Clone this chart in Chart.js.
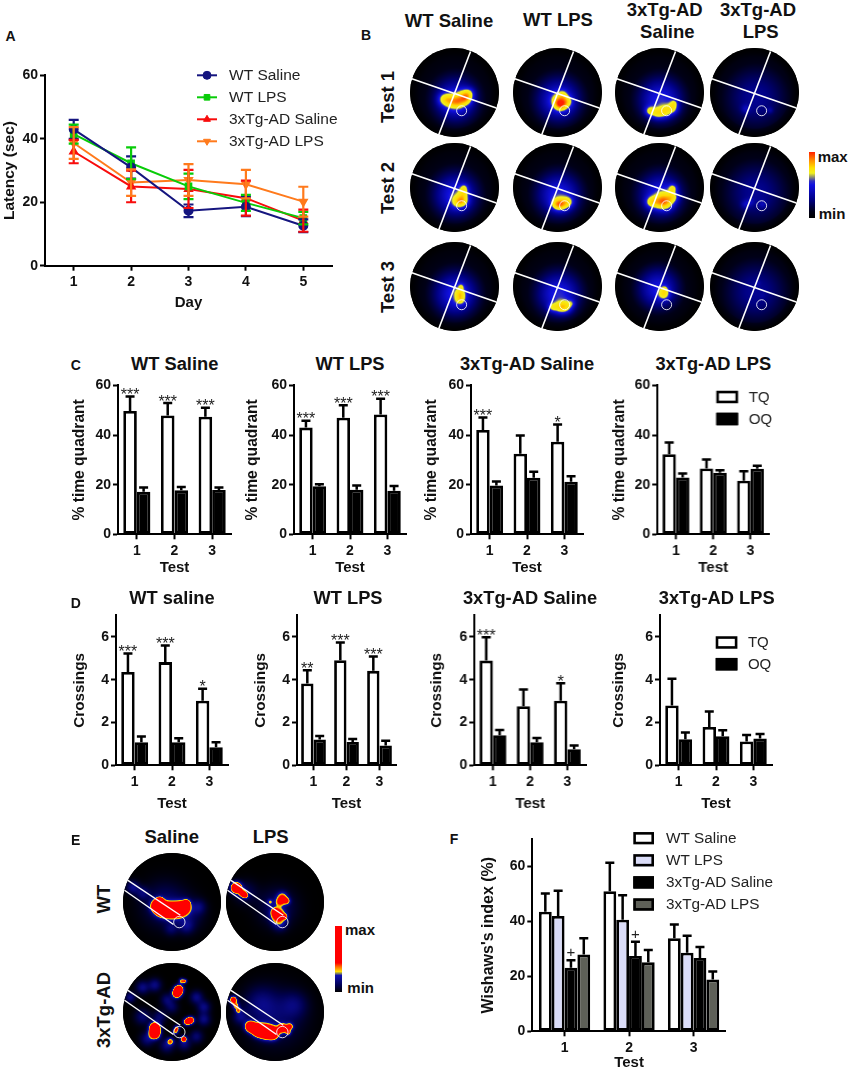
<!DOCTYPE html>
<html><head><meta charset="utf-8">
<style>
html,body{margin:0;padding:0;background:#fff;width:850px;height:1070px;overflow:hidden;font-family:"Liberation Sans",Arial,sans-serif;color:#111}
#fig{position:relative;width:850px;height:1070px}
canvas{position:absolute;display:block}
.t{position:absolute;line-height:1;white-space:nowrap;transform-origin:center}
.bar{position:absolute}
</style>
<script src="https://cdn.jsdelivr.net/npm/chart.js@4"></script>
</head><body><div id="fig"></div>
<script>
/* ---------- Panel A ---------- */
const days=['1','2','3','4','5'];
const latencyWtSaline=[43,31,17.3,18.6,12.6];
const latencyWtLps=[41.5,32.3,25,19.8,15];
const latencyTgSaline=[36,25,24.2,21.3,14.2];
const latencyTgLps=[38.7,26.2,27,25.7,20.2];
const semWtSaline=[3,3.5,2,3,2];
const semWtLps=[3,5,4,2.5,2];
const semTgSaline=[3.7,5,6,5.5,3.5];
const semTgLps=[5,4.2,5,4.5,4.7];
/* ---------- Panel C: % time quadrant (value, upper whisker) ---------- */
const tests=['1','2','3'];
const cWtSalTQ=[49.7,47.9,47.4], cWtSalTQHi=[55.5,52.9,51];
const cWtSalOQ=[17.1,17.7,17.9], cWtSalOQHi=[18.9,19.1,18.9];
const cWtLpsTQ=[43,47,48.3], cWtLpsTQHi=[45.8,52,54.6];
const cWtLpsOQ=[19.4,18,17.5], cWtLpsOQHi=[20.2,19.7,19.5];
const cTgSalTQ=[42,32.5,37.3], cTgSalTQHi=[47.1,39.8,44.2];
const cTgSalOQ=[19.7,22.8,21.2], cTgSalOQHi=[21.3,25.2,23.4];
const cTgLpsTQ=[32.3,26.5,21.6], cTgLpsTQHi=[37,30.1,25.4];
const cTgLpsOQ=[22.9,24.8,26.4], cTgLpsOQHi=[24.5,25.8,27.6];
/* ---------- Panel D: crossings ---------- */
const dWtSalTQ=[4.36,4.82,3.02], dWtSalTQHi=[5.22,5.6,3.58];
const dWtSalOQ=[1.08,1.08,0.84], dWtSalOQHi=[1.34,1.26,1.08];
const dWtLpsTQ=[3.82,4.91,4.41], dWtLpsTQHi=[4.44,5.73,5.08];
const dWtLpsOQ=[1.2,1.09,0.93], dWtLpsOQHi=[1.37,1.23,1.15];
const dTgSalTQ=[4.89,2.76,3.02], dTgSalTQHi=[5.98,3.54,3.83];
const dTgSalOQ=[1.4,1.08,0.75], dTgSalOQHi=[1.65,1.28,0.93];
const dTgLpsTQ=[2.79,1.79,1.11], dTgLpsTQHi=[4.04,2.51,1.42];
const dTgLpsOQ=[1.22,1.36,1.25], dTgLpsOQHi=[1.53,1.64,1.46];
/* ---------- Panel F: Wishaw's index ---------- */
const fWtSal=[43.5,51,33.9], fWtSalHi=[50.2,61.4,38.9];
const fWtLps=[42,40.6,28.6], fWtLpsHi=[51.2,49.5,34.8];
const fTgSal=[23.1,27.4,26.7], fTgSalHi=[25.9,32.6,30.7];
const fTgLps=[28,25.1,18.9], fTgLpsHi=[33.9,29.6,21.8];
/* ---------- significance marks ---------- */
const starsC=[['***','***','***'],['***','***','***'],['***','','*'],['','','']];
const starsD=[['***','***','*'],['**','***','***'],['***','','*'],['','','']];
const plusF=['+','+',''];
/* ---------- Heat maps: blobs as [x, y, spread, amount] in arena units ---------- */
const bgMain=[[.03,.18,.33,.44],[0,.05,.62,.1]];
const bgDim=[[.03,.12,.52,.31]];
const heatB=[
 [[...bgMain,[-.24,.15,.1,.34],[-.08,.2,.11,.32],[.1,.2,.11,.4],[.28,.16,.09,.34],[.33,.02,.09,.34],[.2,.05,.09,.22]],
  [...bgMain,[0,.17,.1,.28],[.1,.28,.1,.38],[.02,.28,.08,.2],[.22,.2,.09,.3],[.12,.05,.08,.24]],
  [...bgMain,[-.22,.42,.08,.4],[-.05,.47,.09,.36],[.12,.43,.1,.38],[.3,.36,.09,.38],[.33,.24,.06,.26]],
  [...bgDim,[-.2,.37,.07,.16],[.35,.4,.05,.12]]],
 [[...bgMain,[.08,.32,.1,.36],[.2,.3,.09,.32],[.2,.12,.08,.3],[.22,0,.06,.24]],
  [...bgMain,[-.02,.38,.09,.36],[.1,.38,.1,.42],[.25,.33,.09,.3]],
  [...bgMain,[-.2,.33,.09,.34],[-.03,.33,.11,.36],[.15,.36,.11,.4],[.3,.22,.09,.36],[.3,.02,.07,.38],[.1,.2,.1,.18]],
  [...bgDim,[-.2,.38,.07,.17],[-.08,.32,.06,.12],[.18,.38,.06,.14]]],
 [[...bgMain,[.13,.3,.08,.34],[.13,.15,.08,.34],[.15,0,.05,.22]],
  [...bgMain,[-.12,.47,.07,.3],[.05,.47,.1,.38],[.2,.46,.1,.38],[.32,.38,.06,.18]],
  [[-.03,.05,.32,.42],[0,0,.6,.07],[.1,.17,.09,.42],[.12,.05,.05,.18]],
  [...bgDim,[.08,-.08,.04,.08],[.18,.2,.04,.04]]]
];
const heatE=[
 [[[-.3,.08,.08,.9],[-.2,.15,.09,1],[-.05,.17,.09,1],[.1,.16,.09,1],[.24,.12,.08,.9],[-.25,-.02,.05,.6],[.3,.02,.05,.4],[-.15,.05,.3,.14],[.3,.25,.22,.12],[-.8,-.3,.09,.18],[-.6,-.18,.09,.13],[.55,.1,.1,.12],[.3,.5,.1,.12],[-.02,.55,.09,.1]],
  [[-.79,-.29,.07,1],[-.66,-.17,.05,.5],[-.6,-.13,.04,.36],[.15,-.1,.07,.36],[.1,0,.06,.34],[.24,-.02,.05,.34],[-.1,0,.04,.22],[.06,.27,.09,.6],[0,.2,.05,.36],[.2,.3,.04,.3],[.05,.1,.26,.13],[-.6,-.2,.16,.1],[.1,.45,.1,.16]]],
 [[[.14,-.46,.06,.8],[.1,-.38,.06,.8],[.2,-.63,.04,.38],[.27,-.63,.03,.33],[-.35,.32,.07,.9],[-.35,.44,.07,.9],[.3,.2,.05,.5],[.38,.17,.05,.7],[.1,.33,.04,.36],[.07,.4,.04,.34],[.24,.55,.04,.55],[-.03,.6,.05,.33],[-.6,-.5,.09,.17],[-.35,-.55,.09,.17],[.5,-.3,.09,.17],[.65,-.1,.09,.17],[.65,.15,.09,.17],[-.1,-.25,.09,.14],[0,-.1,.09,.11],[-.6,.1,.11,.14],[-.5,.55,.1,.16],[-.1,.68,.1,.16],[.25,.65,.09,.16],[.5,.5,.09,.14],[-.85,-.3,.07,.17],[-.25,.1,.09,.14]],
  [[-.5,.3,.07,.9],[-.35,.37,.08,1],[-.2,.4,.09,1],[-.05,.43,.08,1],[.15,.33,.06,.7],[.3,.3,.05,.45],[.27,.42,.04,.35],[-.85,-.25,.05,.6],[-.8,-.13,.05,.36],[-.75,-.03,.04,.3],[0,.1,.38,.13],[-.3,-.2,.22,.11],[.4,-.15,.18,.11],[-.7,.1,.1,.16]]]
];
const stopsBBar=[[0,'#000000'],[.1,'#000018'],[.27,'#000080'],[.5,'#1010e0'],[.56,'#3030c0'],[.62,'#909070'],[.68,'#f0f020'],[.76,'#ffe000'],[.87,'#ff9000'],[1,'#ff2000']];
const stopsB=[[0,'#000000'],[.1,'#000018'],[.27,'#000080'],[.5,'#1010e0'],[.56,'#3030c0'],[.62,'#909070'],[.68,'#f0f020'],[.9,'#ffd800'],[1.03,'#ff9000'],[1.18,'#ff2000']];
const stopsE=[[0,'#000000'],[.1,'#000050'],[.25,'#1010b0'],[.28,'#808060'],[.31,'#ffe000'],[.38,'#ff7000'],[.44,'#ff0000'],[1,'#ff0000']];
const quadLine1=[{x:-.96,y:-.31},{x:.94,y:.35}];
const quadLine2=[{x:.36,y:-.92},{x:-.35,y:.94}];
const targetB=[{x:.16,y:.41}];
const corridor1=[{x:-.9,y:-.44},{x:.17,y:.27}];
const corridor2=[{x:-.97,y:-.24},{x:.03,y:.46}];
const targetE=[{x:.15,y:.41}];

/* ---------- helpers ---------- */
Chart.defaults.font.family='"Liberation Sans",Arial,sans-serif';
Chart.defaults.color='#111';
Chart.defaults.animation=false;
const fig=document.getElementById('fig');
function text(s,cx,cy,size,bold,rot){
  const d=document.createElement('div');d.className='t';d.textContent=s;
  d.style.left=cx+'px';d.style.top=cy+'px';d.style.fontSize=size+'px';
  d.style.fontWeight=bold?'bold':'normal';
  d.style.transform='translate(-50%,-50%)'+(rot?' rotate(-90deg)':'');
  fig.appendChild(d);
}
function canvas(l,t,w,h){
  const c=document.createElement('canvas');c.width=w;c.height=h;
  c.style.left=l+'px';c.style.top=t+'px';c.style.width=w+'px';c.style.height=h+'px';
  fig.appendChild(c);return c;
}
const whiskers={id:'whiskers',afterDatasetsDraw(ch){
  const c=ch.ctx,y=ch.scales.y;
  ch.data.datasets.forEach((ds,i)=>{
    if(!ds.errHigh)return;
    ch.getDatasetMeta(i).data.forEach((el,j)=>{
      const top=y.getPixelForValue(ds.errHigh[j]);
      const bot=ds.errLow?y.getPixelForValue(ds.errLow[j]):el.y;
      const x=el.x;
      c.save();c.strokeStyle=ds.errColor||'#000';c.lineWidth=ds.errWidth||2.5;
      c.beginPath();c.moveTo(x,top);c.lineTo(x,bot);
      c.moveTo(x-ds.capHalf,top);c.lineTo(x+ds.capHalf,top);
      if(ds.errLow){c.moveTo(x-ds.capHalf,bot);c.lineTo(x+ds.capHalf,bot);}
      c.stroke();
      const m=ds.marks&&ds.marks[j];
      if(m){
        c.fillStyle='#222';c.textAlign='center';c.textBaseline='alphabetic';
        c.font=ds.markFont;c.fillText(m,x,top+ds.markShift);
      }
      c.restore();
    });
  });
}};
const keyPlugin={id:'figureKey',afterDraw(ch,a,o){
  if(!o.items)return;
  const c=ch.ctx;c.save();
  o.items.forEach((it,idx)=>{
    const ds=ch.data.datasets[idx];
    const x=o.x-ch.canvas.offsetLeft,y=o.y+o.gap*idx-ch.canvas.offsetTop;
    if(o.kind==='line'){
      c.strokeStyle=ds.borderColor;c.lineWidth=2;
      c.beginPath();c.moveTo(x,y);c.lineTo(x+o.w,y);c.stroke();
      c.fillStyle=ds.pointBackgroundColor;c.strokeStyle=ds.pointBackgroundColor;c.lineWidth=1;
      Chart.helpers.drawPoint(c,{pointStyle:ds.pointStyle,rotation:ds.pointRotation||0,radius:4,borderWidth:1},x+o.w/2,y);
    }else{
      c.fillStyle=ds.backgroundColor;c.strokeStyle='#000';c.lineWidth=2.6;
      c.fillRect(x,y-o.h/2,o.w,o.h);c.strokeRect(x+1.3,y-o.h/2+1.3,o.w-2.6,o.h-2.6);
    }
    c.fillStyle='#222';c.font=o.font;c.textAlign='left';c.textBaseline='middle';
    c.fillText(it,x+o.w+o.textGap,y+.5);
  });
  c.restore();
}};
function axes(plot,box,yMax,yStep,yTitle,xTitle,titleX,titleY,ySize,xSize){
  const p=titleX-box.l-ySize/2, q=box.b-titleY-xSize/2;
  return {
    x:{grid:{offset:false,drawOnChartArea:false,drawTicks:true,tickLength:5,tickWidth:2,tickColor:'#000'},
       border:{color:'#000',width:2},
       ticks:{font:{size:14,weight:'bold'},padding:3,autoSkip:false,maxRotation:0,color:'#111'},
       title:{display:true,text:xTitle,font:{size:xSize,weight:'bold',lineHeight:1},padding:{top:0,bottom:q},color:'#111'},
       afterFit(s){s.height=box.b-plot.b;}},
    y:{min:0,max:yMax,
       grid:{drawOnChartArea:false,drawTicks:true,tickLength:5,tickWidth:2,tickColor:'#000'},
       border:{color:'#000',width:2},
       ticks:{stepSize:yStep,font:{size:14,weight:'bold'},padding:2,color:'#111'},
       title:{display:true,text:yTitle,font:{size:ySize,weight:'bold',lineHeight:1},padding:{top:p,bottom:0},color:'#111'},
       afterBuildTicks(s){s.ticks=s.ticks.filter(t=>t.value%yStep===0);},
       afterFit(s){s.width=plot.l-box.l;}}
  };
}
function barChart(plot,box,labels,series,yMax,yStep,yTitle,xTitle,titleX,titleY,catPct,key,ySize,xSize,markFont,markShift){
  new Chart(canvas(box.l,box.t,box.r-box.l,box.b-box.t),{
    type:'bar',
    data:{labels,datasets:series.map(s=>({label:s.label,data:s.data,errHigh:s.hi,marks:s.marks,markFont,markShift,capHalf:4.5,
      backgroundColor:s.fill,borderColor:'#000',borderWidth:2.8,borderSkipped:false,
      categoryPercentage:catPct,barPercentage:1}))},
    options:{responsive:false,devicePixelRatio:1,animation:false,
      layout:{autoPadding:false,padding:{top:plot.t-box.t,right:box.r-plot.r,left:0,bottom:0}},
      scales:axes(plot,box,yMax,yStep,yTitle,xTitle,titleX,titleY,ySize,xSize),
      plugins:{legend:{display:false},tooltip:{enabled:false},figureKey:key||{}}},
    plugins:[whiskers,keyPlugin]
  });
}
function tqoq(tq,tqHi,oq,oqHi,marks){
  return [{label:'TQ',data:tq,hi:tqHi,fill:'#ffffff',marks},{label:'OQ',data:oq,hi:oqHi,fill:'#000000'}];
}
function lerpColor(stops,v){
  const last=stops[stops.length-1];
  if(v>=last[0])return [1,3,5].map(k=>parseInt(last[1].substr(k,2),16));
  v=Math.max(0,v);
  for(let i=1;i<stops.length;i++){
    if(v<=stops[i][0]){
      const f=(v-stops[i-1][0])/(stops[i][0]-stops[i-1][0]);
      const a=stops[i-1][1],b=stops[i][1];
      return [1,3,5].map(k=>{const A=parseInt(a.substr(k,2),16),B=parseInt(b.substr(k,2),16);return A+(B-A)*f;});
    }
  }
  return [255,0,0];
}
const heatField={id:'heatField',beforeDatasetsDraw(ch,a,o){
  const {x:sx,y:sy}=ch.scales,ar=ch.chartArea;
  const w=Math.round(ar.right-ar.left),h=Math.round(ar.bottom-ar.top);
  const off=document.createElement('canvas');off.width=w;off.height=h;
  const oc=off.getContext('2d'),img=oc.createImageData(w,h);
  for(let j=0;j<h;j++)for(let i=0;i<w;i++){
    const ux=sx.getValueForPixel(ar.left+i+.5),uy=sy.getValueForPixel(ar.top+j+.5);
    let v=0;
    for(const b of o.blobs){const dx=ux-b[0],dy=uy-b[1];v+=b[3]*Math.exp(-(dx*dx+dy*dy)/(2*b[2]*b[2]));}
    const edge=Math.hypot(ux,uy);
    if(edge>.8&&o.fade)v*=Math.max(0,1-(edge-.8)/.2);
    const col=lerpColor(o.stops,v),k=(j*w+i)*4;
    img.data[k]=col[0];img.data[k+1]=col[1];img.data[k+2]=col[2];img.data[k+3]=255;
  }
  oc.putImageData(img,0,0);
  const c=ch.ctx,cx=sx.getPixelForValue(0),cy=sy.getPixelForValue(0),r=sx.getPixelForValue(1)-cx;
  c.save();c.beginPath();c.arc(cx,cy,r,0,Math.PI*2);c.fillStyle='#000';c.fill();c.clip();
  c.drawImage(off,ar.left,ar.top);c.restore();
}};
function heatChart(cx,cy,r,blobs,stops,l1,l2,target,ptR,lw,fade){
  const s=Math.round(r*2),lft=Math.round(cx-r),tp=Math.round(cy-r);
  const line=d=>({type:'scatter',data:d,showLine:true,borderColor:'#fff',borderWidth:lw,pointRadius:0,clip:false});
  new Chart(canvas(lft,tp,s,s),{
    type:'scatter',
    data:{datasets:[line(l1),line(l2),{data:target,pointRadius:ptR,pointBorderColor:'rgba(255,255,255,.85)',pointBorderWidth:1,pointBackgroundColor:'rgba(0,0,0,0)',pointStyle:'circle'}]},
    options:{responsive:false,devicePixelRatio:1,animation:false,layout:{autoPadding:false,padding:0},
      scales:{x:{type:'linear',min:-1,max:1,display:false},y:{type:'linear',min:-1,max:1,reverse:true,display:false}},
      plugins:{legend:{display:false},tooltip:{enabled:false},heatField:{blobs,stops,fade}}},
    plugins:[heatField]
  });
}
function colorBar(l,t,w,h,stops){
  const d=document.createElement('div');d.className='bar';
  d.style.cssText+=`left:${l}px;top:${t}px;width:${w}px;height:${h}px;background:linear-gradient(to top,${stops.map(s=>s[1]+' '+s[0]*100+'%').join(',')})`;
  fig.appendChild(d);
}

/* ---------- Panel A chart ---------- */
(function(){
  const box={l:0,t:65,r:345,b:315},plot={l:45,t:75,r:332,b:265.7};
  const mk=(label,data,sem,col,ps,rot)=>({label,data,borderColor:col,backgroundColor:col,borderWidth:2,tension:0,
    pointStyle:ps,pointRotation:rot||0,pointRadius:4,pointBackgroundColor:col,pointBorderColor:col,
    errHigh:data.map((v,i)=>v+sem[i]),errLow:data.map((v,i)=>v-sem[i]),capHalf:5,errColor:col,errWidth:2.2});
  const ax=axes(plot,box,60,20,'Latency (sec)','Day',10,302.7,15.5,15);
  ax.x.offset=true;
  new Chart(canvas(box.l,box.t,box.r-box.l,box.b-box.t),{
    type:'line',
    data:{labels:days,datasets:[
      mk('WT Saline',latencyWtSaline,semWtSaline,'#15157f','circle'),
      mk('WT LPS',latencyWtLps,semWtLps,'#08cc08','rect'),
      mk('3xTg-AD Saline',latencyTgSaline,semTgSaline,'#f80c0c','triangle'),
      mk('3xTg-AD LPS',latencyTgLps,semTgLps,'#ff7a1c','triangle',180)]},
    options:{responsive:false,devicePixelRatio:1,animation:false,
      layout:{autoPadding:false,padding:{top:plot.t-box.t,right:box.r-plot.r,left:0,bottom:0}},
      scales:ax,
      plugins:{legend:{display:false},tooltip:{enabled:false},
        figureKey:{kind:'line',items:['WT Saline','WT LPS','3xTg-AD Saline','3xTg-AD LPS'],x:197,y:75.3,gap:22,w:20,h:0,textGap:12,font:'15.5px "Liberation Sans"'}}},
    plugins:[whiskers,keyPlugin]
  });
})();

/* ---------- Panel C ---------- */
const cBox=(l,w)=>({box:{l:l-50,t:375,r:l+w+4,b:580},plot:{l,t:385,r:l+w,b:534.3}});
const star='16px "Liberation Sans"';
[[117.5,113,tqoq(cWtSalTQ,cWtSalTQHi,cWtSalOQ,cWtSalOQHi,starsC[0]),79.3],
 [294.2,112,tqoq(cWtLpsTQ,cWtLpsTQHi,cWtLpsOQ,cWtLpsOQHi,starsC[1]),253],
 [470.7,112,tqoq(cTgSalTQ,cTgSalTQHi,cTgSalOQ,cTgSalOQHi,starsC[2]),431.7],
 [657.3,112,tqoq(cTgLpsTQ,cTgLpsTQHi,cTgLpsOQ,cTgLpsOQHi,starsC[3]),620]
].forEach((p,i)=>{
  const g=cBox(p[0],p[1]);
  if(i===3)g.box.r=800;
  const key=i===3?{kind:'box',items:['TQ','OQ'],x:715.7,y:397,gap:22,w:21.7,h:12.5,textGap:10.5,font:'15px "Liberation Sans"'}:null;
  barChart(g.plot,g.box,tests,p[2],60,20,'% time quadrant','Test',p[3],567.7,.72,key,15.6,15,star,3.5);
});
/* ---------- Panel D ---------- */
const dBox=(l,w)=>({box:{l:l-50,t:605,r:l+w+4,b:825},plot:{l,t:615,r:l+w,b:765.3}});
[[116,112,tqoq(dWtSalTQ,dWtSalTQHi,dWtSalOQ,dWtSalOQHi,starsD[0]),79.3,.72],
 [297.3,99,tqoq(dWtLpsTQ,dWtLpsTQHi,dWtLpsOQ,dWtLpsOQHi,starsD[1]),260.7,.75],
 [474.3,112,tqoq(dTgSalTQ,dTgSalTQHi,dTgSalOQ,dTgSalOQHi,starsD[2]),436.7,.72],
 [660,112,tqoq(dTgLpsTQ,dTgLpsTQHi,dTgLpsOQ,dTgLpsOQHi,starsD[3]),619,.72]
].forEach((p,i)=>{
  const g=dBox(p[0],p[1]);
  if(i===3)g.box.r=800;
  const key=i===3?{kind:'box',items:['TQ','OQ'],x:715.7,y:642.5,gap:21.7,w:21.7,h:12.5,textGap:10.5,font:'15px "Liberation Sans"'}:null;
  barChart(g.plot,g.box,tests,p[2],7,2,'Crossings','Test',p[3],804.3,p[4],key,15.3,15,star,3.5);
});
/* ---------- Panel F ---------- */
barChart({l:532.3,t:839,r:725.8,b:1031.3},{l:480,t:825,r:810,b:1070},tests,[
  {label:'WT Saline',data:fWtSal,hi:fWtSalHi,fill:'#ffffff'},
  {label:'WT LPS',data:fWtLps,hi:fWtLpsHi,fill:'#dadcf8'},
  {label:'3xTg-AD Saline',data:fTgSal,hi:fTgSalHi,fill:'#000000',marks:plusF},
  {label:'3xTg-AD LPS',data:fTgLps,hi:fTgLpsHi,fill:'#5e6058'}],
  70,20,"Wishaws's index (%)",'Test',489,1063,.795,
  {kind:'box',items:['WT Saline','WT LPS','3xTg-AD Saline','3xTg-AD LPS'],x:633.3,y:838.2,gap:22.1,w:20.7,h:12.3,textGap:12,font:'15.3px "Liberation Sans"'},
  16,15,'15px "Liberation Sans"',-3);

/* ---------- Panel B maps ---------- */
const bCols=[454.7,557.3,659.3,754.7], bRows=[92.5,187.3,286.5];
heatB.forEach((row,r)=>row.forEach((blobs,c)=>{
  heatChart(bCols[c],bRows[r],44.7,blobs,stopsB,quadLine1,quadLine2,targetB,5,1.6,true);
}));
colorBar(809.3,151.7,5.7,66.6,stopsBBar);
/* ---------- Panel E maps ---------- */
const eCols=[171.7,275.3], eRows=[901.7,1011.7];
heatE.forEach((row,r)=>row.forEach((blobs,c)=>{
  heatChart(eCols[c],eRows[r],49,blobs,stopsE,corridor1,corridor2,targetE,5.7,1.4,false);
}));
colorBar(335.3,926,6.4,65.7,stopsE);

/* ---------- Headings ---------- */
[['A',10.5,35.7],['B',366,35],['C',75.7,365],['D',75.7,603],['E',75.7,840],['F',454,839]].forEach(a=>text(a[0],a[1],a[2],14,true));
[['WT Saline',449,21],['WT LPS',558,20],['3xTg-AD',664.7,9.5],['Saline',667.3,32],['3xTg-AD',758,9.5],['LPS',760.7,32]].forEach(a=>text(a[0],a[1],a[2],18.5,true));
[['Test 1',96.7],['Test 2',188],['Test 3',286.7]].forEach(a=>text(a[0],388,a[1],18.5,true,true));
text('max',818+14.7,155.7,15,true);text('min',818+14,213,15,true);
[['WT Saline',174.7],['WT LPS',350],['3xTg-AD Saline',527],['3xTg-AD LPS',713.3]].forEach(a=>text(a[0],a[1],364,18.3,true));
[['WT saline',172],['WT LPS',348],['3xTg-AD Saline',530],['3xTg-AD LPS',716.7]].forEach(a=>text(a[0],a[1],598,18.3,true));
text('Saline',171.7,837,18.5,true);text('LPS',270.7,837,18.5,true);
text('WT',104,899,18.5,true,true);text('3xTg-AD',104,1010,18.5,true,true);
text('max',345+15,929,15,true);text('min',346.7+14,987,15,true);
</script></body></html>
